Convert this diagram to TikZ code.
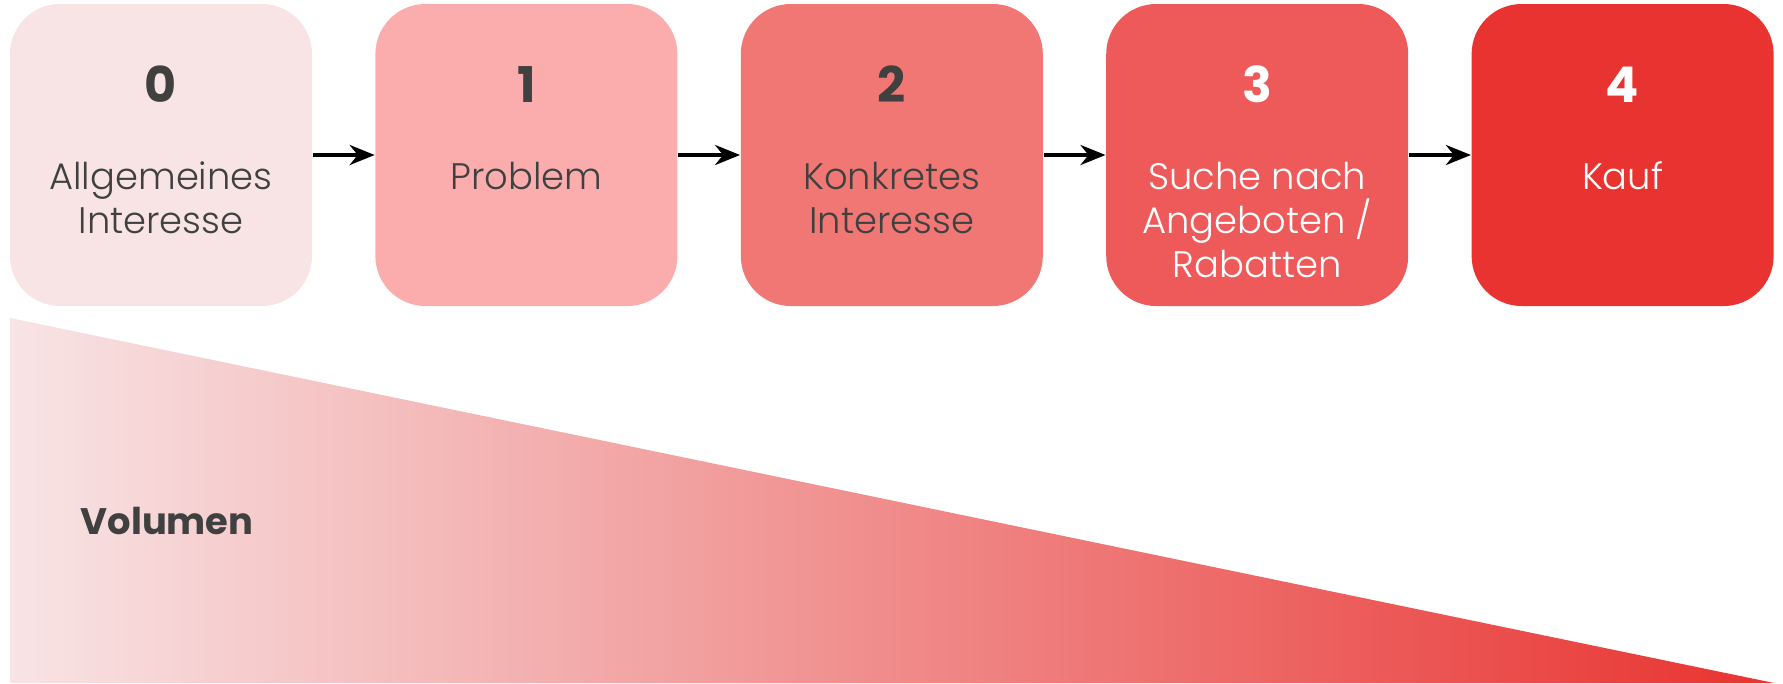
\documentclass[tikz,border=0pt]{standalone}
\usepackage{fontspec}
\setmainfont{Poppins}
\newfontfamily\poplight{Poppins Light}
\usetikzlibrary{positioning,arrows.meta}

\definecolor{stage0}{HTML}{F8E4E5}
\definecolor{stage1}{HTML}{FBADAE}
\definecolor{stage2}{HTML}{F07773}
\definecolor{stage3}{HTML}{EE5A5A}
\definecolor{stage4}{HTML}{E83330}
\definecolor{textgray}{HTML}{404040}

\tikzset{
  stagebox/.style={minimum width=3.02cm, minimum height=3.02cm,
    rounded corners=0.5cm, inner sep=0pt},
  stagenum/.style={font=\bfseries\fontsize{14}{16}\selectfont,
    inner sep=0pt, anchor=base},
  stagetext/.style={font=\poplight\fontsize{10.5}{12.6}\selectfont,
    align=center, inner sep=0pt, anchor=north},
  flow/.style={-{Stealth[length=2.5mm,width=2mm,inset=0.8mm]},
    line width=1.1pt}
}

\begin{document}
\begin{tikzpicture}
  \useasboundingbox (0,0) rectangle (17.83,6.83);
  %volume wedge
  \shade[left color=stage0, right color=stage4]
        (0.10,3.65) -- (0.10,0) -- (17.74,0) -- cycle;
  \node[font=\bfseries\fontsize{10.5}{12.5}\selectfont, text=textgray,
        anchor=base west, inner sep=0pt] (vol) at (0.80,1.49) {Volumen};
  %stages
  \node[stagebox, fill=stage0] (s0) at (1.61,5.28) {};
  \node[stagebox, fill=stage1, right=0.62cm of s0] (s1) {};
  \node[stagebox, fill=stage2, right=0.62cm of s1] (s2) {};
  \node[stagebox, fill=stage3, right=0.62cm of s2] (s3) {};
  \node[stagebox, fill=stage4, right=0.62cm of s3] (s4) {};
  %numbers
  \node[stagenum, text=textgray] (n0) at ([yshift=0.53cm]s0.center) {0};
  \node[stagenum, text=textgray] (n1) at ([yshift=0.53cm]s1.center) {1};
  \node[stagenum, text=textgray] (n2) at ([yshift=0.53cm]s2.center) {2};
  \node[stagenum, text=white] (n3) at ([yshift=0.53cm]s3.center) {3};
  \node[stagenum, text=white] (n4) at ([yshift=0.53cm]s4.center) {4};
  %labels
  \node[stagetext, text=textgray] (t0) at ([yshift=-0.06cm]s0.center)
        {Allgemeines\\Interesse};
  \node[stagetext, text=textgray] (t1) at ([yshift=-0.06cm]s1.center)
        {Problem};
  \node[stagetext, text=textgray] (t2) at ([yshift=-0.06cm]s2.center)
        {Konkretes\\Interesse};
  \node[stagetext, text=white] (t3) at ([yshift=-0.06cm]s3.center)
        {Suche nach\\Angeboten /\\Rabatten};
  \node[stagetext, text=white] (t4) at ([yshift=-0.06cm]s4.center)
        {Kauf};
  %arrows
  \draw[flow] (s0) -- (s1);
  \draw[flow] (s1) -- (s2);
  \draw[flow] (s2) -- (s3);
  \draw[flow] (s3) -- (s4);
\end{tikzpicture}
\end{document}
